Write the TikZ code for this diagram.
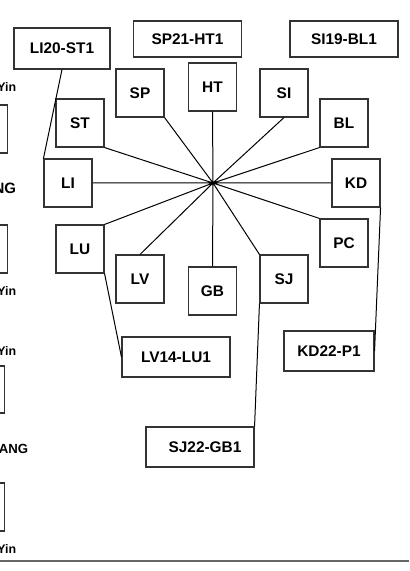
\documentclass[tikz,border=0pt]{standalone}
\usepackage{fontspec}
\setmainfont{Liberation Sans}
\usetikzlibrary{positioning}

\begin{document}
\begin{tikzpicture}[x=0.5pt, y=-0.5pt,
    box/.style={draw=black!80, line width=0.55pt, inner sep=0pt, minimum size=24pt, font=\fontsize{7.7}{9}\selectfont\bfseries},
    pair/.style={box, minimum width=54pt, minimum height=20pt},
    tag/.style={font=\fontsize{6.6}{8}\selectfont\bfseries, inner sep=0pt, anchor=east},
    yin/.style={font=\fontsize{6.2}{7}\selectfont\bfseries, inner sep=0pt, anchor=east}]
    \useasboundingbox (0,0) rectangle (409,571);
    \clip (0,0) rectangle (409,571);

    % hub of the wheel
    \coordinate (c) at (213,183);

    \node[box] (sp) at (140,93) {SP};
    \node[box] (ht) at (212.5,87) {HT};
    \node[box] (si) at (284,93) {SI};
    \node[box] (bl) at (344,123) {BL};
    \node[box] (st) at (80,123) {ST};
    \node[box] (li) at (68,183) {LI};
    \node[box] (kd) at (356,183) {KD};
    \node[box] (lu) at (80,249) {LU};
    \node[box] (pc) at (344,243) {PC};
    \node[box] (lv) at (140,279) {LV};
    \node[box] (gb) at (212.5,291) {GB};
    \node[box] (sj) at (284,279) {SJ};

    \node[pair, minimum width=48pt, minimum height=20.5pt] (li20) at (62,48.5) {LI20-ST1};
    \node[pair, minimum height=18pt] (sp21) at (187.5,39) {SP21-HT1};
    \node[pair, minimum height=18pt] (si19) at (344,39) {SI19-BL1};
    \node[pair] (lv14) at (176,357) {LV14-LU1};
    \node[pair, minimum width=45pt] (kd22) at (329,351) {KD22-P1};
    \node[pair] (sj22) at (200,447) {\hspace*{5pt}SJ22-GB1};

    \draw[line width=0.5pt] (c) -- (sp.south east)
        (c) -- (ht.south)
        (c) -- (si.south)
        (c) -- (bl.south west)
        (c) -- (kd.west)
        (c) -- (pc.north west)
        (c) -- (sj.north west)
        (c) -- (gb.north)
        (c) -- (lv.north)
        (c) -- (lu.north east)
        (c) -- (li.east)
        (c) -- (st.south east);

    \draw[line width=0.5pt] (li20.south) -- (li.north west)
        (lu.south east) -- (lv14.west)
        (sj.south west) -- (sj22.north east)
        (kd.south east) -- (kd22.east);

    % column cut off at the left edge
    \node[yin] (y1) at (16.5,87) {Yin};
    \node[box, anchor=east] (b1) at (8,129) {};
    \node[tag, font=\fontsize{7.5}{9}\selectfont\bfseries] (t1) at (16.5,188) {NG};
    \node[box, anchor=east] (b2) at (8,249) {};
    \node[yin] (y2) at (16.5,291) {Yin};
    \node[yin] (y3) at (16.5,351) {Yin};
    \node[box, anchor=east, minimum height=23.5pt] (b3) at (5,389.5) {};
    \node[tag] (t2) at (28.5,449) {ANG};
    \node[box, anchor=east] (b4) at (5,507) {};
    \node[yin] (y4) at (16.5,549) {Yin};

    \draw[black!60, line width=1pt] (0,561) -- (409,561);
\end{tikzpicture}
\end{document}
